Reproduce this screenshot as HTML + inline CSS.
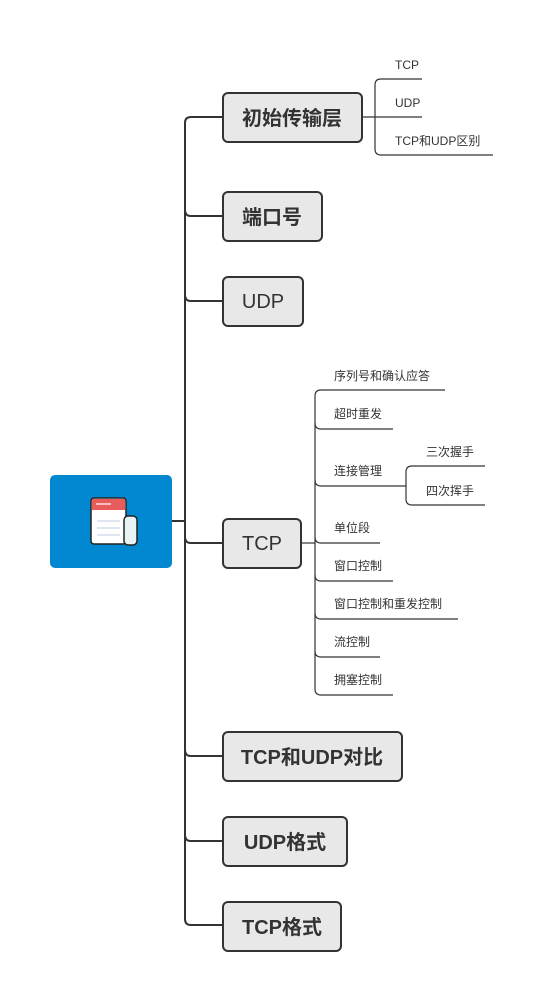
<!DOCTYPE html>
<html><head><meta charset="utf-8"><style>
html,body{margin:0;padding:0;background:#fff;}
svg{display:block;}
.b{font-family:"Liberation Sans","Noto Sans CJK SC",sans-serif;font-weight:bold;font-size:20px;fill:#333;}
.s{font-family:"Liberation Sans","Noto Sans CJK SC",sans-serif;font-size:12px;fill:#333;}
</style></head><body>
<svg width="543" height="1001" viewBox="0 0 543 1001" xmlns="http://www.w3.org/2000/svg">
<g fill="none" stroke="#333" stroke-width="2">
<path d="M172 521 H185"/>
<path d="M222 117 H191 Q185 117 185 123 V919 Q185 925 191 925 H222"/>
<path d="M185 210 Q185 216 191 216 H222"/>
<path d="M185 295 Q185 301 191 301 H222"/>
<path d="M185 537 Q185 543 191 543 H222"/>
<path d="M185 750 Q185 756 191 756 H222"/>
<path d="M185 835 Q185 841 191 841 H222"/>
</g>
<g fill="none" stroke="#333" stroke-width="1.2">
<path d="M362 117 H422"/>
<path d="M422 79 H381 Q375 79 375 85 V149 Q375 155 381 155 H493"/>
<path d="M301 543 H315"/>
<path d="M445 390 H321 Q315 390 315 396 V689 Q315 695 321 695 H393"/>
<path d="M315 423 Q315 429 321 429 H393"/>
<path d="M315 480 Q315 486 321 486 H406"/>
<path d="M485 466 H412 Q406 466 406 472 V499 Q406 505 412 505 H485"/>
<path d="M315 537 Q315 543 321 543 H380"/>
<path d="M315 575 Q315 581 321 581 H393"/>
<path d="M315 613 Q315 619 321 619 H458"/>
<path d="M315 651 Q315 657 321 657 H380"/>
</g>
<rect x="50" y="475" width="122" height="93" rx="5" fill="#0288d1"/>
<g>
<rect x="91" y="498" width="35" height="46" rx="3" fill="#fff" stroke="#222" stroke-width="1.5"/>
<rect x="92" y="499" width="33" height="11" fill="#e85c5c"/>
<line x1="96" y1="504" x2="111" y2="504" stroke="#fff" stroke-width="1.2"/>
<rect x="124" y="516" width="13" height="29" rx="4" fill="#e8f3f5" stroke="#222" stroke-width="1.5"/>
<line x1="97" y1="521" x2="120" y2="521" stroke="#bcd" stroke-width="1"/>
<line x1="97" y1="528" x2="120" y2="528" stroke="#bcd" stroke-width="1"/>
<line x1="97" y1="535" x2="120" y2="535" stroke="#bcd" stroke-width="1"/>
</g>
<g fill="#e8e8e8" stroke="#333" stroke-width="2">
<rect x="223" y="93" width="139" height="49" rx="5"/>
<rect x="223" y="192" width="99" height="49" rx="5"/>
<rect x="223" y="277" width="80" height="49" rx="5"/>
<rect x="223" y="519" width="78" height="49" rx="5"/>
<rect x="223" y="732" width="179" height="49" rx="5"/>
<rect x="223" y="817" width="124" height="49" rx="5"/>
<rect x="223" y="902" width="118" height="49" rx="5"/>
</g>
<text class="b" x="292" y="125" text-anchor="middle">初始传输层</text>
<text class="b" x="272" y="224" text-anchor="middle">端口号</text>
<text class="b" x="263" y="308" text-anchor="middle" style="font-weight:normal">UDP</text>
<text class="b" x="262" y="550" text-anchor="middle" style="font-weight:normal">TCP</text>
<text class="b" x="312" y="764" text-anchor="middle">TCP和UDP对比</text>
<text class="b" x="285" y="849" text-anchor="middle">UDP格式</text>
<text class="b" x="282" y="934" text-anchor="middle">TCP格式</text>
<text class="s" x="395" y="69">TCP</text>
<text class="s" x="395" y="107">UDP</text>
<text class="s" x="395" y="145">TCP和UDP区别</text>
<text class="s" x="334" y="380">序列号和确认应答</text>
<text class="s" x="334" y="418">超时重发</text>
<text class="s" x="334" y="475">连接管理</text>
<text class="s" x="426" y="456">三次握手</text>
<text class="s" x="426" y="495">四次挥手</text>
<text class="s" x="334" y="532">单位段</text>
<text class="s" x="334" y="570">窗口控制</text>
<text class="s" x="334" y="608">窗口控制和重发控制</text>
<text class="s" x="334" y="646">流控制</text>
<text class="s" x="334" y="684">拥塞控制</text>
</svg>
</body></html>
